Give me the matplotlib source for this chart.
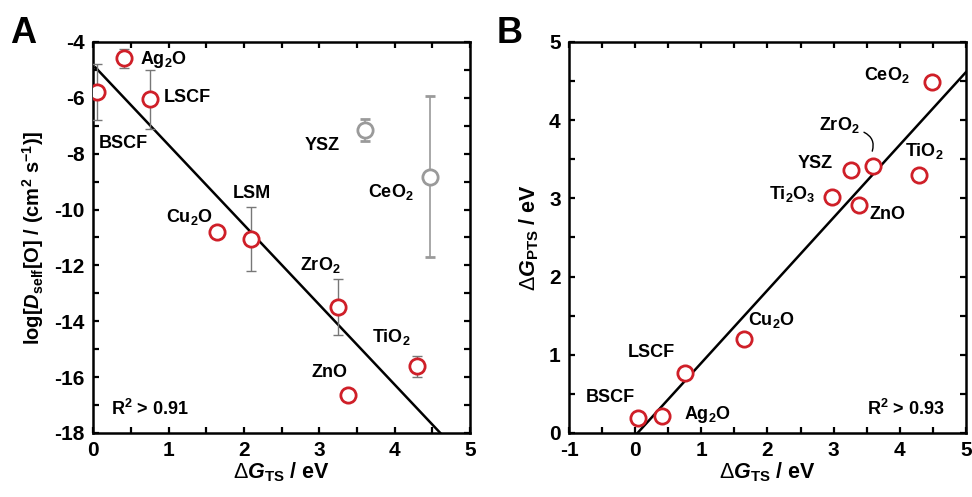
import numpy as np
import matplotlib.pyplot as plt
from matplotlib.ticker import MultipleLocator

plt.rcParams['font.family'] = ['Liberation Sans', 'DejaVu Sans']
plt.rcParams['axes.unicode_minus'] = False
plt.rcParams['mathtext.fontset'] = 'custom'
plt.rcParams['mathtext.rm'] = 'Liberation Sans'
plt.rcParams['mathtext.it'] = 'Liberation Sans:bold:italic'
plt.rcParams['mathtext.bf'] = 'Liberation Sans:bold'

RED = '#cf1f28'
GRAY = '#9a9a9a'

# ---- panel A: log D_self vs dG_TS ----
a_names = ['BSCF', 'Ag$_\\mathbf{2}$O', 'LSCF', 'Cu$_\\mathbf{2}$O', 'LSM', 'ZrO$_\\mathbf{2}$', 'ZnO', 'TiO$_\\mathbf{2}$']
a_x = [0.05, 0.41, 0.75, 1.64, 2.09, 3.25, 3.38, 4.30]
a_y = [-5.80, -4.59, -6.05, -10.79, -11.06, -13.50, -16.64, -15.61]
a_err = [1.0, 0.35, 1.05, 0.0, 1.14, 1.0, 0.0, 0.38]

a_gray_names = ['YSZ', 'CeO$_\\mathbf{2}$']
a_gray_x = [3.61, 4.47]
a_gray_y = [-7.15, -8.82]
a_gray_err = [0.40, 2.88]

a_fit = [-2.86, -4.83]  # slope, intercept
a_fit_x = [0.03, 5.0]

# label anchor (left, vertical centre) for each text in A
a_lab_names = ['Ag$_\\mathbf{2}$O', 'LSCF', 'BSCF', 'YSZ', 'CeO$_\\mathbf{2}$', 'LSM',
               'Cu$_\\mathbf{2}$O', 'ZrO$_\\mathbf{2}$', 'TiO$_\\mathbf{2}$', 'ZnO']
a_lab_x = [0.62, 0.93, 0.07, 2.81, 3.65, 1.85, 0.96, 2.75, 3.70, 2.90]
a_lab_y = [-4.62, -6.0, -7.62, -7.70, -9.36, -9.41, -10.25, -11.98, -14.56, -15.82]

# ---- panel B: dG_PTS vs dG_TS ----
b_x = [4.48, 3.59, 3.26, 4.29, 2.97, 3.39, 1.64, 0.76, 0.05, 0.41]
b_y = [4.49, 3.41, 3.36, 3.30, 3.02, 2.92, 1.20, 0.77, 0.19, 0.21]
b_fit = [0.93, -0.035]
b_fit_x = [0.04, 5.0]

b_lab_names = ['CeO$_\\mathbf{2}$', 'ZrO$_\\mathbf{2}$', 'TiO$_\\mathbf{2}$', 'YSZ',
               'Ti$_\\mathbf{2}$O$_\\mathbf{3}$', 'ZnO', 'Cu$_\\mathbf{2}$O', 'LSCF', 'BSCF', 'Ag$_\\mathbf{2}$O']
b_lab_x = [3.46, 2.78, 4.08, 2.45, 2.02, 3.54, 1.70, -0.11, -0.74, 0.74]
b_lab_y = [4.58, 3.94, 3.60, 3.45, 3.05, 2.79, 1.45, 1.03, 0.45, 0.23]

fig = plt.figure(figsize=(9.72, 4.97), dpi=100)
axA = fig.add_axes([0.096, 0.129, 0.3875, 0.7865])
axB = fig.add_axes([0.5854, 0.129, 0.4084, 0.7865])


def style_axis(ax, ymaj, ymin):
    for s in ax.spines.values():
        s.set_linewidth(1.8)
    ax.xaxis.set_major_locator(MultipleLocator(1))
    ax.xaxis.set_minor_locator(MultipleLocator(0.5))
    ax.yaxis.set_major_locator(MultipleLocator(ymaj))
    ax.yaxis.set_minor_locator(MultipleLocator(ymin))
    ax.tick_params(which='both', direction='in', top=True, right=True,
                   length=4, width=1.6, labelsize=15, pad=6)
    for lab in ax.get_xticklabels() + ax.get_yticklabels():
        lab.set_fontweight('bold')


xlab = r'$\mathrm{\Delta}\mathit{G}_{\mathbf{TS}}$ / eV'

# panel A
xs = np.array(a_fit_x)
axA.plot(xs, a_fit[0] * xs + a_fit[1], color='black', lw=1.8, zorder=2)
axA.errorbar(a_gray_x, a_gray_y, yerr=a_gray_err, fmt='o', ms=11, mfc='white',
             mec=GRAY, mew=2, ecolor=GRAY, elinewidth=1.2, capsize=3.5, capthick=1.2, zorder=3)
err = np.array(a_err)
axA.errorbar(a_x, a_y, yerr=np.where(err > 0, err, np.nan), fmt='none',
             ecolor='#777777', elinewidth=1.0, capsize=3.5, capthick=1.0, zorder=3)
axA.plot(a_x, a_y, 'o', ms=11, mfc='white', mec=RED, mew=2, zorder=4)
for n, x, y in zip(a_lab_names, a_lab_x, a_lab_y):
    axA.text(x, y, n, fontsize=13, fontweight='bold', ha='left', va='center')
axA.text(0.24, -17.13, r'R$^\mathbf{2}$ > 0.91', fontsize=13, fontweight='bold', ha='left', va='center')
axA.set_xlim(0, 5)
axA.set_ylim(-18, -4)
style_axis(axA, 2, 1)
axA.set_xlabel(xlab, fontsize=15.5, fontweight='bold', labelpad=0)
axA.set_ylabel(r'log[$\mathit{D}_{\mathbf{self}}$[O] / (cm$^{\mathbf{2}}$ s$^{\mathbf{-1}}$)]',
               fontsize=14.5, fontweight='bold', labelpad=6)

# panel B
xs = np.array(b_fit_x)
axB.plot(xs, b_fit[0] * xs + b_fit[1], color='black', lw=1.8, zorder=2)
axB.plot(b_x, b_y, 'o', ms=11, mfc='white', mec=RED, mew=2, zorder=4)
for n, x, y in zip(b_lab_names, b_lab_x, b_lab_y):
    axB.text(x, y, n, fontsize=13, fontweight='bold', ha='left', va='center')
axB.text(3.51, 0.30, r'R$^\mathbf{2}$ > 0.93', fontsize=13, fontweight='bold', ha='left', va='center')
axB.annotate('', xy=(3.57, 3.57), xytext=(3.42, 3.86),
             arrowprops=dict(arrowstyle='-', color='black', lw=1.0,
                             connectionstyle='arc3,rad=-0.5'))
axB.set_xlim(-1, 5)
axB.set_ylim(0, 5)
style_axis(axB, 1, 0.5)
axB.set_xlabel(xlab, fontsize=15.5, fontweight='bold', labelpad=0)
axB.set_ylabel(r'$\mathrm{\Delta}\mathit{G}_{\mathbf{PTS}}$ / eV', fontsize=15.5,
               fontweight='bold', labelpad=6)

fig.text(0.010, 0.9135, 'A', fontsize=26, fontweight='bold', va='baseline', ha='left')
fig.text(0.511, 0.9135, 'B', fontsize=26, fontweight='bold', va='baseline', ha='left')

fig.savefig('out.png', dpi=100)
